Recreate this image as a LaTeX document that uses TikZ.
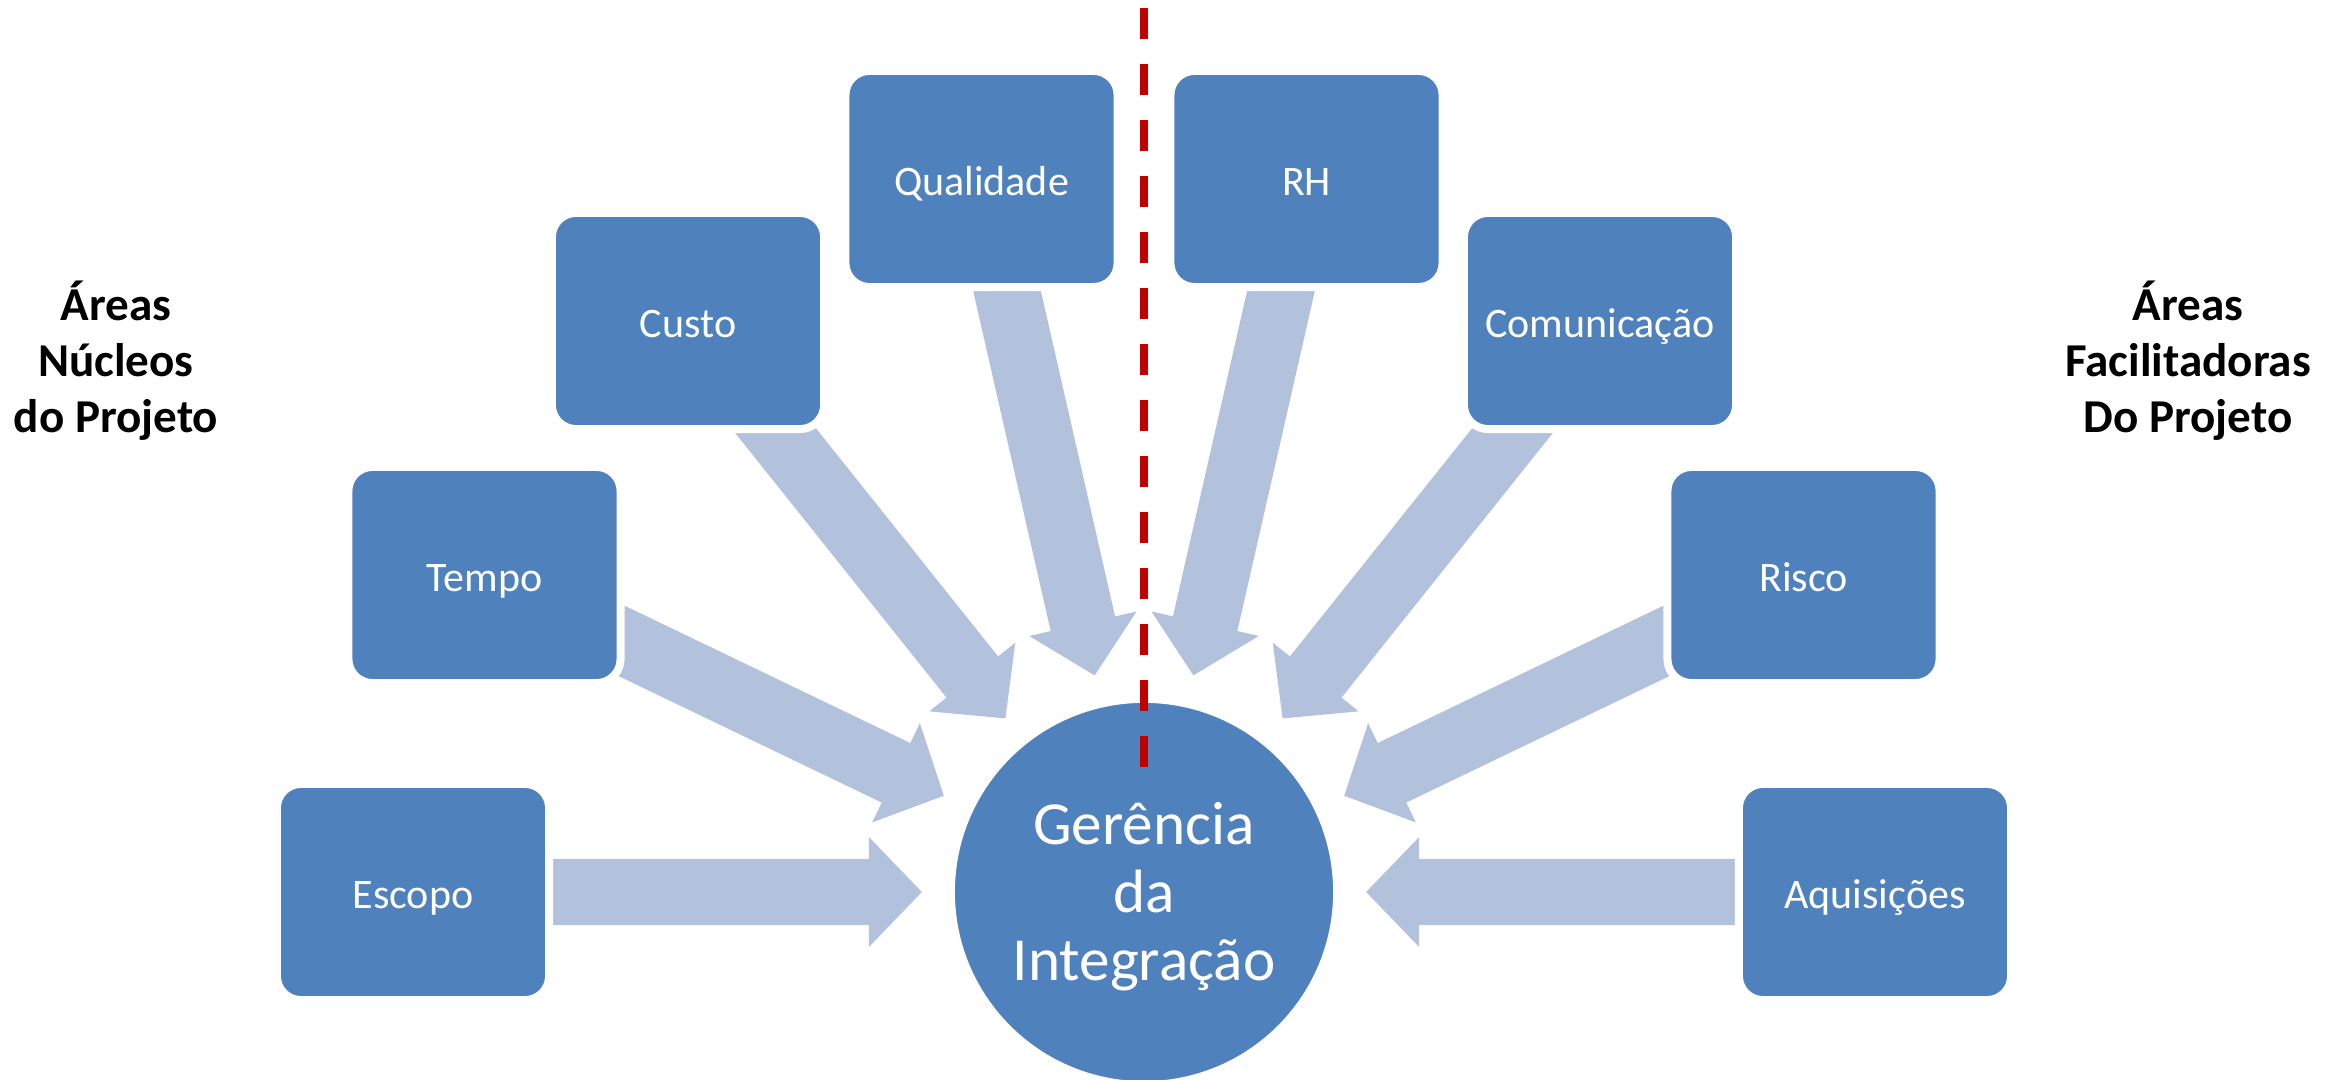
\documentclass[tikz,border=0pt]{standalone}
\usepackage{fontspec}
\setmainfont{Carlito}
\usetikzlibrary{calc}
\definecolor{boxblue}{HTML}{4F81BD}
\definecolor{arrowblue}{HTML}{B3C2DC}
\definecolor{divred}{HTML}{C00000}
\tikzset{
  areabox/.style={rectangle, rounded corners=0.24cm, fill=boxblue, draw=white, line width=0.08cm,
    minimum width=2.72cm, minimum height=2.16cm, inner sep=0pt, text=white,
    text height=11.4pt, text depth=2pt,
    font=\fontsize{11.95}{14.3}\selectfont},
  hubcircle/.style={circle, fill=boxblue, draw=white, line width=0.08cm, minimum size=3.86cm,
    inner sep=0pt},
  hubtext/.style={text=white, align=center, font=\fontsize{17.4}{19.35}\selectfont},
  sidelabel/.style={align=center, font=\fontsize{13.4}{15.9}\selectfont\bfseries},
  divider/.style={draw=divred, line width=0.08cm, dash pattern=on 0.31cm off 0.25cm}
}
\newcommand\radialarrow[1]{%
  \path let \p0=(#1.center) in coordinate (T) at ($(hub.center)!2.22cm!(\p0)$);
  \coordinate (H) at ($(T)!0.53cm!(#1.center)$);
  \fill[arrowblue] ($(#1.center)!0.33cm!90:(T)$) -- ($(H)!0.33cm!-90:(#1.center)$)
    -- ($(H)!0.55cm!-90:(#1.center)$) -- (T) -- ($(H)!0.55cm!90:(#1.center)$)
    -- ($(H)!0.33cm!90:(#1.center)$) -- ($(#1.center)!0.33cm!-90:(T)$) -- cycle;
}
\begin{document}
\begin{tikzpicture}[x=0.01cm,y=-0.01cm]
\useasboundingbox (0,0) rectangle (2346,1080);
\path
  (413,892) coordinate (cEscopo)
  (484.5,575) coordinate (cTempo)
  (688,321) coordinate (cCusto)
  (981.5,179) coordinate (cQualidade)
  (1306.5,179) coordinate (cRH)
  (1600,321) coordinate (cComunicacao)
  (1803.5,575) coordinate (cRisco)
  (1875,892) coordinate (cAquisicoes)
  (1144,892) coordinate (hub);
\foreach \b in {cEscopo,cTempo,cCusto,cQualidade,cRH,cComunicacao,cRisco,cAquisicoes}{
  \radialarrow{\b}
}
\node[areabox] (escopo) at (cEscopo) {Escopo};
\node[areabox] (tempo) at (cTempo) {Tempo};
\node[areabox] (custo) at (cCusto) {Custo};
\node[areabox] (qualidade) at (cQualidade) {Qualidade};
\node[areabox] (rh) at (cRH) {RH};
\node[areabox] (comunicacao) at (cComunicacao) {Comunicação};
\node[areabox] (risco) at (cRisco) {Risco};
\node[areabox] (aquisicoes) at (cAquisicoes) {Aquisições};
\node[hubcircle] (gerencia) at (hub) {};
\node[hubtext] (gertext) at (1144,897) {Gerência\\da\\Integração};
\coordinate (divtop) at (1144,8);
\coordinate (divbot) at (1144,768);
\draw[divider] (divtop) -- (divbot);
\node[sidelabel] (leftlabel) at (116,361) {Áreas\\Núcleos\\do Projeto};
\node[sidelabel] (rightlabel) at (2188,361) {Áreas\\Facilitadoras\\Do Projeto};
\end{tikzpicture}
\end{document}
